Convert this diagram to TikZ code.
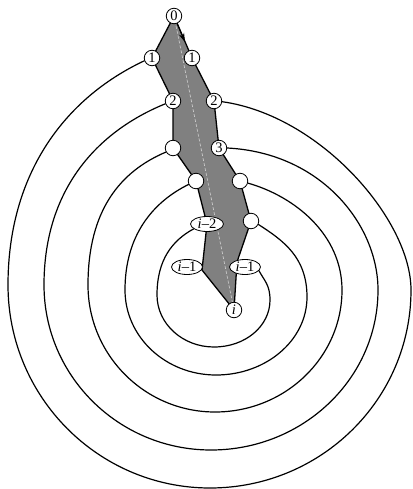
\documentclass[tikz,border=0pt]{standalone}
\usepackage{fontspec}
\setmainfont{Liberation Serif}
\usetikzlibrary{shapes.geometric,arrows.meta}
\pgfdeclarelayer{bg}
\pgfsetlayers{bg,main}
\begin{document}
\begin{tikzpicture}[x=1pt,y=-1pt,
  lbl/.style={circle,draw,fill=white,line width=0.8pt,minimum size=15.5pt,inner sep=0pt,font=\fontsize{14.5}{14}\selectfont},
  elbl/.style={ellipse,draw,fill=white,line width=0.8pt,inner xsep=0.5pt,inner ysep=0pt,minimum height=15pt,minimum width=31pt,font=\fontsize{14.5}{14}\selectfont},
  ring/.style={line width=1.2pt,line cap=round},
  poly/.style={fill=gray,draw=black,line width=1.3pt,line join=round},
  diag/.style={draw=gray!35!white,dash pattern=on 3pt off 2pt,line width=0.6pt},
  arr/.style={-{Stealth[length=9pt,width=5.5pt]},line width=1pt}
]
\useasboundingbox (0,0) rectangle (412,489);
\node[lbl] (n0) at (174,16) {0};
\node[lbl] (l1) at (152,58) {1};
\node[lbl] (r1) at (192,58) {1};
\node[lbl] (l2) at (173,101) {2};
\node[lbl] (r2) at (214,101) {2};
\node[lbl] (l3) at (173,148) {};
\node[lbl] (r3) at (219,148) {3};
\node[lbl] (l4) at (196,181) {};
\node[lbl] (r4) at (240,181) {};
\node[elbl,minimum width=33pt] (l5) at (207,224) {\textit{i}–2};
\node[lbl] (r5) at (251,221) {};
\node[elbl] (l6) at (187,267) {\textit{i}–1};
\node[elbl] (r6) at (245,267) {\textit{i}–1};
\node[lbl] (ni) at (234,310) {\textit{i}};
\coordinate (pl) at (202,270);
\coordinate (pr) at (237,262);
\coordinate (aend) at (185,42);
\begin{pgfonlayer}{bg}
\path[poly] (n0.center) -- (l1.center) -- (l2.center) -- (l3.center) -- (l4.center) -- (l5.center) -- (pl) -- (ni.center) -- (pr) -- (r5.center) -- (r4.center) -- (r3.center) -- (r2.center) -- (r1.center) -- cycle;
\path[diag] (n0.center) -- (ni.center);
% ring 1
\draw[ring] (l1.200) .. controls (63.5,98.8) and (8,175) .. (8,285)
  .. controls (8,397) and (98.4,488) .. (210,488)
  .. controls (321,488) and (411,399.4) .. (411,290)
  .. controls (411,220) and (320.5,115.4) .. (r2.-5);
% ring 2
\draw[ring] (l2.200) .. controls (96.5,131.8) and (44,190) .. (44,285)
  .. controls (44,376.1) and (118.8,450) .. (211,450)
  .. controls (303.2,450) and (378,378.4) .. (378,290)
  .. controls (378,225) and (321.5,152.8) .. (r3.0);
% ring 3
\draw[ring] (l3.210) .. controls (120.5,171.3) and (88,210) .. (88,285)
  .. controls (88,355.1) and (144.9,412) .. (215,412)
  .. controls (285.1,412) and (342,357.4) .. (342,290)
  .. controls (342,235) and (295.3,196.5) .. (r4.-15);
% ring 4
\draw[ring] (l4.205) .. controls (153.3,201.8) and (125,235) .. (125,290)
  .. controls (125,337) and (165.7,375) .. (216,375)
  .. controls (266.3,375) and (307,340.1) .. (307,297)
  .. controls (307,257) and (283,240.4) .. (r5.-25);
% ring 5
\draw[ring] (l5.200) .. controls (172.1,240.6) and (157,260) .. (157,295)
  .. controls (157,323.7) and (182.5,347) .. (214,347)
  .. controls (245.5,347) and (270,326) .. (270,300)
  .. controls (270,285) and (264.5,280.9) .. (r6.-15);
\end{pgfonlayer}
\draw[arr] (n0) -- (aend);
\end{tikzpicture}
\end{document}
